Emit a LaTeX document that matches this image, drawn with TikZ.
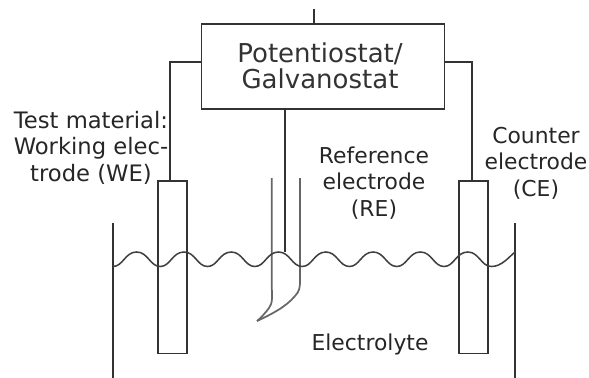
\documentclass[tikz,border=0pt]{standalone}
\usepackage{fontspec}
\setmainfont{DejaVu Sans}
\begin{document}
\begin{tikzpicture}[x=0.75pt,y=-0.75pt,
  wire/.style={draw=black!80,line width=1.25pt},
  surface/.style={draw=black!75,line width=1.15pt},
  tube/.style={draw=black!60,line width=1.3pt},
  elec/.style={draw=black!80,line width=1.3pt,minimum width=21.75pt,minimum height=129.5pt,inner sep=0pt,anchor=north west},
  lab/.style={inner sep=0pt,text=black!85,font=\fontsize{16.4}{19.9}\selectfont,align=center,anchor=center},
  wider/.style={lab,font=\fontsize{17}{19.9}\selectfont},
  big/.style={inner sep=0pt,text=black!80,font=\fontsize{19.5}{19.6}\selectfont,align=center}]
\useasboundingbox (0,0) rectangle (589,378);
\node[draw=black!80,line width=1.3pt,minimum width=182.25pt,minimum height=64pt,inner sep=0pt,anchor=north west] (ps) at (200.5,23) {};
\node[big] (pstext) at (320,66) {Potentiostat/\\Galvanostat};
\node[elec] (we) at (157,180) {};
\node[elec] (ce) at (458,180) {};
\coordinate (top) at (314,9);
\coordinate (wl) at (170,62);
\coordinate (wb) at (170,180);
\coordinate (cr) at (472,62);
\coordinate (cb) at (472,180);
\coordinate (ps-l) at (200.5,62);
\coordinate (ps-r) at (443.5,62);
\coordinate (ps-t) at (314,23);
\coordinate (ps-b) at (285.1,108);
\coordinate (reb) at (285.1,252);
\draw[wire] (top) -- (ps-t);
\draw[wire] (ps-l) -- (wl) -- (wb);
\draw[wire] (ps-r) -- (cr) -- (cb);
\draw[wire,line width=1.4pt] (ps-b) -- (reb);
% beaker
\draw[wire] (113,223) -- (113,378);
\draw[wire] (515,223) -- (515,378);
% reference electrode
\draw[tube] (271.7,178) -- (271.7,285) .. controls (272,296) and (273,303) .. (269,308) .. controls (266,312) and (261,318) .. (257,321);
\draw[tube] (300,178) -- (300,280) .. controls (300,288) and (299.5,291) .. (295,296) .. controls (286,307) and (270,315) .. (257,321);
% liquid surface
\draw[surface,line join=round] (113,266.5)
  \foreach \i in {0,...,7} {
    .. controls ({113+47.3*\i+10},266.5) and ({113+47.3*\i+12},252) .. ({113+47.3*\i+23.65},252)
    .. controls ({113+47.3*\i+35},252) and ({113+47.3*\i+37},266.5) .. ({113+47.3*\i+47.3},266.5)
  }
  .. controls (501.4,266.5) and (508,258) .. (515,252);
% labels
\node[wider] (t) at (91,147.5) {Test material:\\Working elec-\\trode (WE)};
\node[lab] (r) at (374,183) {Reference\\electrode\\(RE)};
\node[lab] (c) at (536,163) {Counter\\electrode\\(CE)};
\node[lab] (e) at (370,344) {Electrolyte};
\end{tikzpicture}
\end{document}
